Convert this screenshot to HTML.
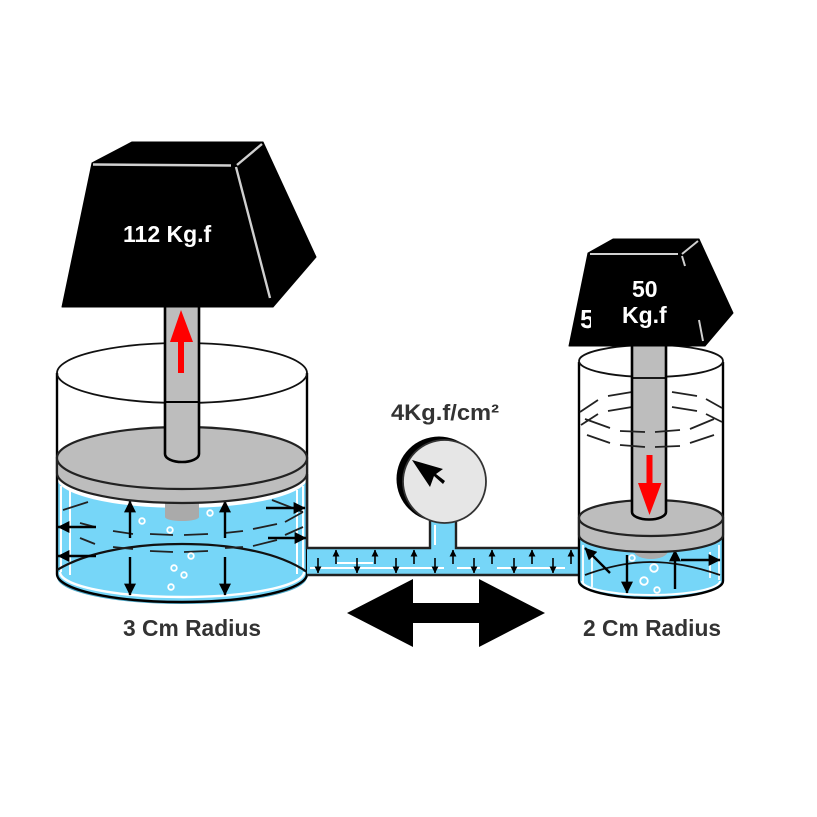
<!DOCTYPE html>
<html><head><meta charset="utf-8"><style>
html,body{margin:0;padding:0;background:#fff}
svg{display:block}
text{font-family:"Liberation Sans",sans-serif;font-weight:bold}
</style></head><body>
<svg width="817" height="817" viewBox="0 0 817 817" xmlns="http://www.w3.org/2000/svg">
<defs>
<marker id="h" viewBox="0 0 10 10" refX="9.500" refY="5" markerWidth="12" markerHeight="12" markerUnits="userSpaceOnUse" orient="auto"><path d="M0 0L10 5L0 10z" fill="#000"/></marker>
<marker id="s" viewBox="0 0 10 10" refX="9.500" refY="5" markerWidth="7" markerHeight="7" markerUnits="userSpaceOnUse" orient="auto"><path d="M0 0L10 5L0 10z" fill="#000"/></marker>
</defs>
<rect width="817" height="817" fill="#fff"/>

<!-- LEFT CYLINDER -->
<path d="M57 478A125 30 0 0 0 307 478V574A125 29 0 0 1 57 574Z" fill="#76d6f8"/>
<path d="M57 574A125 28 0 0 0 307 574V577A125 27 0 0 1 57 577Z" fill="#4fa9c8"/>
<path d="M60 572A122 25 0 0 0 304 572" fill="none" stroke="#fff" stroke-width="2.400"/>
<path d="M61 486V572M70 490V575M297 490V574M303 486V570" stroke="#fff" stroke-width="2" fill="none"/>
<rect x="165" y="495" width="34" height="22" fill="#aaa"/><ellipse cx="182" cy="517" rx="17" ry="4" fill="#aaa"/>
<path d="M57 373V574A125 28 0 0 0 307 574V373" fill="none" stroke="#000" stroke-width="2.400"/>
<path d="M57 570C90 550 140 544 182 544S275 550 307 572" fill="none" stroke="#111" stroke-width="2.200"/>
<path d="M63 510L88 502M272 500L303 512M80 523L95 527M113 531L133 534M150 534L173 535M184 535L208 534M225 533L243 531M253 529L277 524M285 522L303 512M80 538L95 544M113 547L133 549M150 551L173 552M184 552L208 551M225 548L243 547M253 546L277 540M285 535L303 527" fill="none" stroke="#222" stroke-width="1.800"/>
<g fill="none" stroke="#fff" stroke-width="1.800"><circle cx="142" cy="521" r="2.800"/><circle cx="170" cy="530" r="2.800"/><circle cx="210" cy="513" r="2.800"/><circle cx="191" cy="556" r="2.800"/><circle cx="174" cy="568" r="2.800"/><circle cx="184" cy="575" r="2.800"/><circle cx="171" cy="587" r="2.800"/></g>
<g stroke="#000" stroke-width="2.400" fill="none">
<path d="M130 538V501" marker-end="url(#h)"/><path d="M130 557V595" marker-end="url(#h)"/>
<path d="M225 538V501" marker-end="url(#h)"/><path d="M225 557V595" marker-end="url(#h)"/>
<path d="M96 527H58" marker-end="url(#h)"/><path d="M96 556H58" marker-end="url(#h)"/>
<path d="M266 508H305" marker-end="url(#h)"/><path d="M268 538H306" marker-end="url(#h)"/>
</g>
<path d="M57 458V473A125 30 0 0 0 307 473V458Z" fill="#bdbdbd" stroke="#222" stroke-width="2.200"/>
<ellipse cx="182" cy="458" rx="125" ry="31" fill="#bdbdbd" stroke="#222" stroke-width="2.200"/>
<ellipse cx="182" cy="373" rx="125" ry="30" fill="none" stroke="#111" stroke-width="1.800"/>
<path d="M165 300V454A17 8 0 0 0 199 454V300Z" fill="#bdbdbd" stroke="#000" stroke-width="2.600"/>
<path d="M165 402H199" stroke="#000" stroke-width="2"/>
<path d="M181 310L193 342H184V373H178V342H170Z" fill="#f00"/>
<path d="M62 307L92 163L132 142H263L316 257L273 307Z" fill="#000" stroke="#000" stroke-width="1" stroke-linejoin="round"/>
<path d="M93 164.500L231 165.500M237 165L262 144M236 167L270 298" stroke="#d0d0d0" stroke-width="2.400" fill="none"/>
<text x="123" y="242" font-size="23" fill="#fff">112 Kg.f</text>

<!-- PIPE -->
<path d="M307 548H430V521H456V548H581V575H307Z" fill="#76d6f8"/>
<path d="M307 474V548H430V521M456 521V548H581M307 575H581" fill="none" stroke="#222" stroke-width="2.400"/>
<path d="M310 568H444M457 568H480M497 568H565M337 563H373M435 525V545" stroke="#fff" stroke-width="2" fill="none"/>
<g stroke="#000" stroke-width="1.600" fill="none">
<path d="M336 564V550" marker-end="url(#s)"/><path d="M375 564V550" marker-end="url(#s)"/><path d="M414 564V550" marker-end="url(#s)"/><path d="M453 564V550" marker-end="url(#s)"/><path d="M492 564V550" marker-end="url(#s)"/><path d="M532 564V550" marker-end="url(#s)"/><path d="M571 564V550" marker-end="url(#s)"/>
<path d="M318 558V573" marker-end="url(#s)"/><path d="M357 558V573" marker-end="url(#s)"/><path d="M396 558V573" marker-end="url(#s)"/><path d="M435 558V573" marker-end="url(#s)"/><path d="M474 558V573" marker-end="url(#s)"/><path d="M514 558V573" marker-end="url(#s)"/><path d="M553 558V573" marker-end="url(#s)"/>
</g>

<!-- GAUGE -->
<circle cx="439" cy="479" r="42.500" fill="#000"/>
<circle cx="444.500" cy="481.500" r="41.500" fill="#e6e6e6" stroke="#333" stroke-width="1.800"/>
<path d="M412 460L443 469L436 474L445 481L443 484L434 476L430 487Z" fill="#000"/>
<text x="391" y="420" font-size="22.500" fill="#333" textLength="108" lengthAdjust="spacingAndGlyphs">4Kg.f/cm²</text>

<!-- DOUBLE ARROW -->
<path d="M347 613L413 579V603H479V579L545 613L479 647V623H413V647Z" fill="#000"/>

<!-- RIGHT CYLINDER -->
<path d="M579 535A72 17 0 0 0 723 535V581A72 17 0 0 1 579 581Z" fill="#76d6f8"/>
<path d="M582 581A69 14 0 0 0 720 581" fill="none" stroke="#fff" stroke-width="2"/>
<path d="M583 545V583M592 552V587M710 552V578M719 545V580" stroke="#fff" stroke-width="1.800" fill="none"/>
<ellipse cx="651" cy="551" rx="17" ry="8" fill="#aaa"/>
<path d="M579 362V581A72 17 0 0 0 723 581V362" fill="none" stroke="#000" stroke-width="2.400"/>
<path d="M585 575Q620 562 651 562T720 575" fill="none" stroke="#111" stroke-width="1.800"/>
<path d="M580 412L598 400M608 396L632 392M672 392L697 396M706 399L722 408M581 425L598 414M608 411L632 407M672 407L697 411M706 414L722 422" fill="none" stroke="#222" stroke-width="1.800"/>
<g fill="none" stroke="#fff" stroke-width="1.800"><circle cx="632" cy="558" r="2.800"/><circle cx="654" cy="568" r="3.800"/><circle cx="644" cy="581" r="3.800"/><circle cx="657" cy="590" r="2.800"/></g>
<g stroke="#000" stroke-width="2.400" fill="none">
<path d="M610 573L585 548" marker-end="url(#h)"/><path d="M627 555V593" marker-end="url(#h)"/><path d="M675 589V550" marker-end="url(#h)"/><path d="M681 560H720" marker-end="url(#h)"/>
</g>
<path d="M579 518V535A72 17 0 0 0 723 535V518Z" fill="#bdbdbd" stroke="#222" stroke-width="2.200"/>
<ellipse cx="651" cy="518" rx="72" ry="18" fill="#bdbdbd" stroke="#222" stroke-width="2.200"/>
<ellipse cx="651" cy="361" rx="72" ry="16" fill="none" stroke="#111" stroke-width="1.800"/>
<path d="M632 340V512A17 7.500 0 0 0 666 512V340Z" fill="#bdbdbd" stroke="#000" stroke-width="2.600"/>
<path d="M632 378H666" stroke="#000" stroke-width="1.800"/>
<path d="M585 419L610 428M620 431L645 432M655 432L680 430M690 429L714 419M587 435L610 443M620 445L645 447M655 447L680 446M690 443L714 435" fill="none" stroke="#222" stroke-width="1.800"/>
<path d="M646.500 455H652.500V483H661.500L649.500 515L638 483H646.500Z" fill="#f00"/>
<path d="M569 346L588 253L613 239H699L733 313L705 346Z" fill="#000" stroke="#000" stroke-width="1" stroke-linejoin="round"/>
<path d="M590 254H678M682 254L698 241M682 256L685 266M699 320L703 341" stroke="#d0d0d0" stroke-width="2" fill="none"/>
<svg x="578" y="300" width="13" height="35" viewBox="578 300 13 35"><text x="580" y="328" font-size="26" fill="#fff">5</text></svg>
<text x="632" y="297" font-size="23" fill="#fff">50</text>
<text x="622" y="323" font-size="23" fill="#fff">Kg.f</text>

<text x="123" y="636" font-size="22.800" fill="#333">3 Cm Radius</text>
<text x="583" y="636" font-size="22.800" fill="#333">2 Cm Radius</text>
</svg>
</body></html>
